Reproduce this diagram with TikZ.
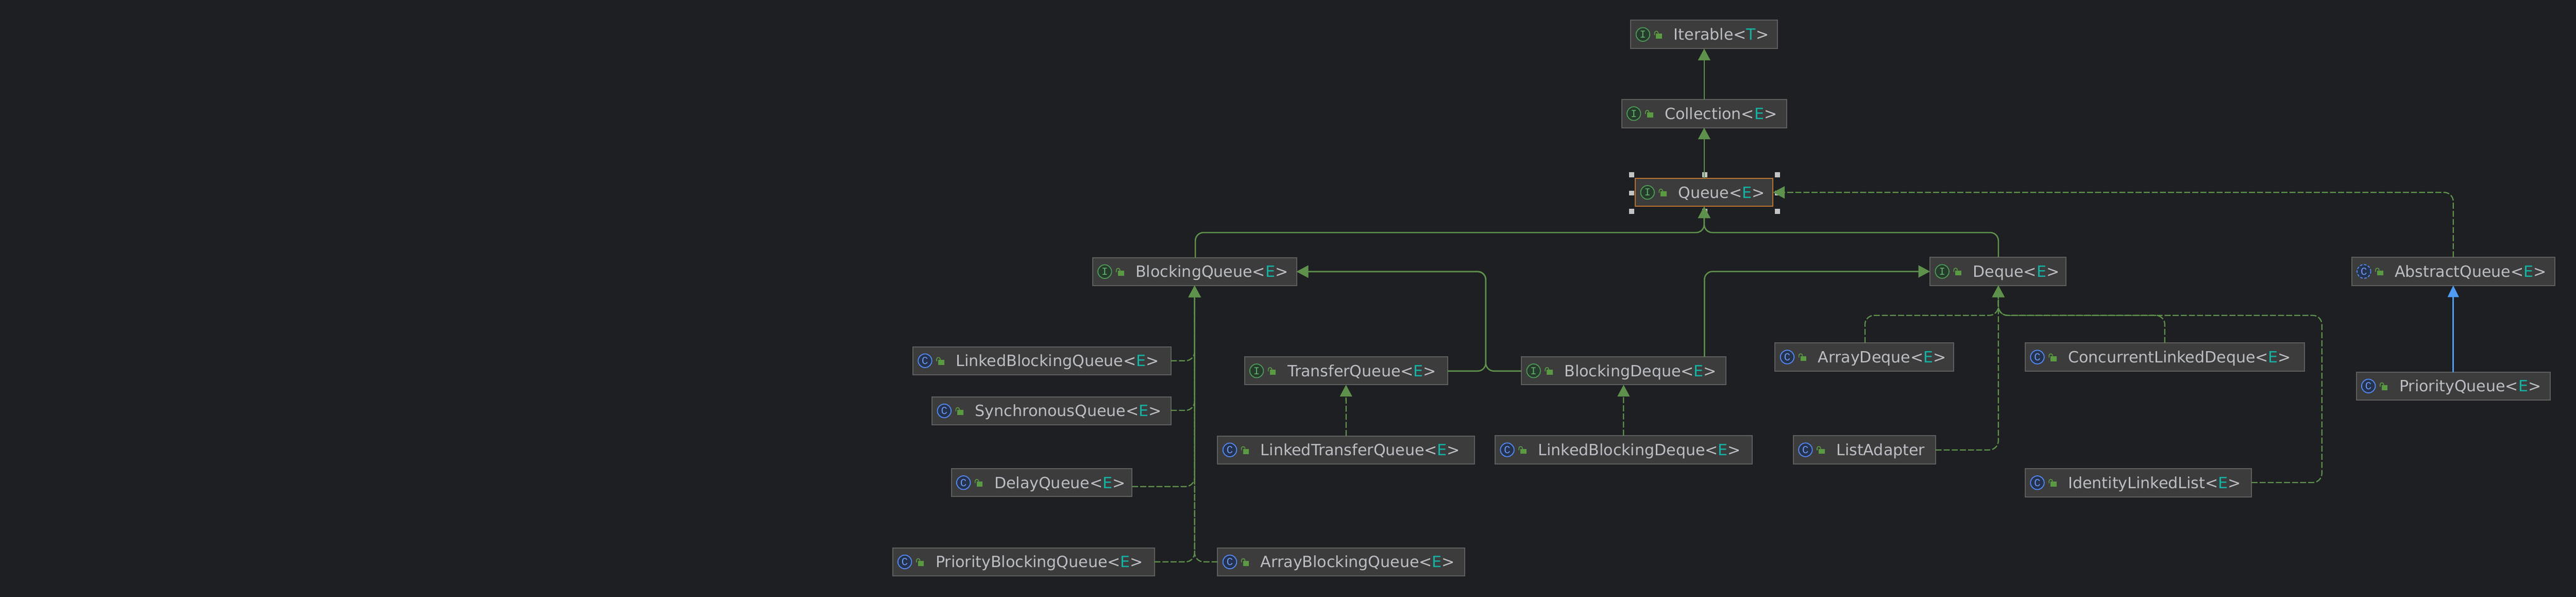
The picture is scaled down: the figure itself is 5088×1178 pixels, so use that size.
\documentclass[tikz,border=0pt]{standalone}
\usepackage{fontspec}
\setmainfont{DejaVu Sans}
\newfontfamily\iconfont{Liberation Mono}
\usetikzlibrary{arrows.meta}
\definecolor{bgcol}{HTML}{1E1F22}
\definecolor{boxfill}{HTML}{3C3C3C}
\definecolor{boxline}{HTML}{5E5E5E}
\definecolor{txtcol}{HTML}{BCBEC4}
\definecolor{tealE}{HTML}{13B3A4}
\definecolor{linkgreen}{HTML}{5E914C}
\definecolor{linkblue}{HTML}{4F9CF5}
\definecolor{lockgreen}{HTML}{5A9A42}
\definecolor{ifstroke}{HTML}{4E9A58}
\definecolor{iffill}{HTML}{253B2B}
\definecolor{ifglyph}{HTML}{62B06E}
\definecolor{clstroke}{HTML}{548AF7}
\definecolor{clfill}{HTML}{25324D}
\definecolor{clglyph}{HTML}{6E9CF5}
\definecolor{selline}{HTML}{B8722F}
\definecolor{handlecol}{HTML}{C4C4C4}
\tikzset{
  boxst/.style={draw=boxline,fill=boxfill,line width=2pt,inner sep=0pt,outer sep=0pt,anchor=north west},
  lblst/.style={anchor=base west,inner sep=0pt,outer sep=0pt,text=txtcol,font=\fontsize{30.6}{36}\selectfont},
  iconI/.style={circle,draw=ifstroke,fill=iffill,line width=1.8pt,minimum size=27pt,inner sep=0pt,text=ifglyph,font=\iconfont\fontsize{21}{21}\selectfont},
  iconC/.style={circle,draw=clstroke,fill=clfill,line width=1.8pt,minimum size=27pt,inner sep=0pt,text=clglyph,font=\iconfont\fontsize{21}{21}\selectfont},
  iconA/.style={iconC,dash pattern=on 5pt off 3pt},
  handlest/.style={fill=handlecol,draw=none,minimum size=10pt,inner sep=0pt,outer sep=0pt},
  solidlink/.style={draw=linkgreen,line width=2.6pt,rounded corners=16pt,-{Triangle[length=23pt,width=24pt,fill=linkgreen]}},
  dashlink/.style={solidlink,line width=2.3pt,rounded corners=18pt,dash pattern=on 12pt off 4pt},
  bluelink/.style={solidlink,draw=linkblue,-{Triangle[length=23pt,width=22pt,fill=linkblue]}},
}
\newcommand{\umlbox}[8]{%
  \pgfmathsetmacro{\bw}{#4-#2}\pgfmathsetmacro{\bh}{#5-#3}%
  \node[boxst,minimum width=\bw pt,minimum height=\bh pt] (#1) at (#2,#3) {};
  \begin{scope}[shift={(#2,#3)}]
    \node[#6] (#1-ic) at (24,\bh/2) {#7};
    \fill[lockgreen] (50,\bh/2-2) rectangle (62,\bh/2+8);
    \draw[lockgreen,line width=1.6pt] (47,\bh/2+1) -- (47,\bh/2-3) arc[start angle=180,end angle=0,radius=3.5pt] -- (54,\bh/2-2);
    \node[lblst] (#1-t) at (85,\bh/2+11.2) {#8};
  \end{scope}
}
\newcommand{\gen}[2]{#1<\textcolor{tealE}{#2}>}
\begin{document}
\begin{tikzpicture}[x=1pt,y=-1pt]
\useasboundingbox (0,0) rectangle (5088,1178);
\fill[bgcol] (0,0) rectangle (5088,1178);
\node[handlest] (h1) at (3223,345) {};
\node[handlest] (h2) at (3367,345) {};
\node[handlest] (h3) at (3511,345) {};
\node[handlest] (h4) at (3223,381) {};
\node[handlest] (h5) at (3511,381) {};
\node[handlest] (h6) at (3223,417) {};
\node[handlest] (h7) at (3367,417) {};
\node[handlest] (h8) at (3511,417) {};
\umlbox{it}{3221}{40}{3511}{96}{iconI}{I}{\gen{Iterable}{T}}
\umlbox{coll}{3203}{196.5}{3529}{252}{iconI}{I}{\gen{Collection}{E}}
\umlbox{q}{3230}{352}{3502}{407.5}{iconI}{I}{\gen{Queue}{E}}
\draw[selline,line width=2pt] (q.north west) rectangle (q.south east);
\umlbox{bq}{2158}{508.5}{2561}{563.7}{iconI}{I}{\gen{BlockingQueue}{E}}
\umlbox{dq}{3812}{508}{4081}{563.6}{iconI}{I}{\gen{Deque}{E}}
\umlbox{aq}{4645}{508}{5046}{563.5}{iconA}{C}{\gen{AbstractQueue}{E}}
\umlbox{lbq}{1803}{684.5}{2312.5}{739.6}{iconC}{C}{\gen{LinkedBlockingQueue}{E}}
\umlbox{tq}{2458}{704.4}{2859}{759.6}{iconI}{I}{\gen{TransferQueue}{E}}
\umlbox{bd}{3005}{704.3}{3408.6}{759.6}{iconI}{I}{\gen{BlockingDeque}{E}}
\umlbox{ad}{3506}{677}{3859}{732.5}{iconC}{C}{\gen{ArrayDeque}{E}}
\umlbox{cld}{4000}{677}{4551.5}{732.7}{iconC}{C}{\gen{ConcurrentLinkedDeque}{E}}
\umlbox{pq}{4654}{734.4}{5037}{789.5}{iconC}{C}{\gen{PriorityQueue}{E}}
\umlbox{sq}{1841}{783.6}{2312.5}{838.4}{iconC}{C}{\gen{SynchronousQueue}{E}}
\umlbox{ltq}{2405}{860.7}{2912.5}{915.4}{iconC}{C}{\gen{LinkedTransferQueue}{E}}
\umlbox{lbd}{2953}{860}{3460.5}{915.7}{iconC}{C}{\gen{LinkedBlockingDeque}{E}}
\umlbox{la}{3542}{860}{3823}{915.7}{iconC}{C}{ListAdapter}
\umlbox{dlq}{1879}{925}{2236}{980.4}{iconC}{C}{\gen{DelayQueue}{E}}
\umlbox{il}{4000}{925}{4447}{980.6}{iconC}{C}{\gen{IdentityLinkedList}{E}}
\umlbox{pbq}{1763}{1081.5}{2280}{1136.7}{iconC}{C}{\gen{PriorityBlockingQueue}{E}}
\umlbox{abq}{2405}{1081.5}{2892.6}{1136.7}{iconC}{C}{\gen{ArrayBlockingQueue}{E}}
% named helper coordinates
\coordinate (qjoin) at (3366,459);
\coordinate (tqbend) at (2934.6,732.4);
\coordinate (dqjoin) at (3947,622.5);
\coordinate (ilbend) at (4586,622.5);
\draw[solidlink] (coll.north) -- (it.south);
\draw[solidlink] (q.north) -- (coll.south);
\draw[solidlink] (bq.north -| 2361,0) |- (qjoin) -- (q.south);
\draw[solidlink] (dq.north -| 3947,0) |- (qjoin) -- (q.south);
\draw[dashlink] (aq.north) |- (q.east);
\draw[bluelink] (pq.north) -- (aq.south);
\draw[solidlink] (tq.east |- tqbend) -- (tqbend) |- (bq.east);
\draw[solidlink] (bd.west |- tqbend) -- (tqbend) |- (bq.east);
\draw[solidlink] (3366.5,0 |- bd.north) |- (dq.west);
\draw[dashlink] (ltq.north) -- (tq.south);
\draw[dashlink] (lbd.north) -- (bd.south);
\draw[dashlink] (lbq.east |- 0,712) -| (bq.south);
\draw[dashlink] (sq.east |- 0,810) -| (bq.south);
\draw[dashlink] (dlq.east |- 0,960.4) -| (bq.south);
\draw[dashlink] (pbq.east |- 0,1109) -| (bq.south);
\draw[dashlink] (abq.west |- 0,1109) -| (bq.south);
\draw[dashlink] (la.east |- 0,888) -| (dq.south -| dqjoin);
\draw[dashlink] (ad.north -| 3683.6,0) |- (dqjoin) -- (dq.south -| dqjoin);
\draw[dashlink] (cld.north) |- (dqjoin) -- (dq.south -| dqjoin);
\draw[dashlink] (il.east |- 0,952.4) -| (ilbend) -- (dqjoin) -- (dq.south -| dqjoin);
\end{tikzpicture}
\end{document}
